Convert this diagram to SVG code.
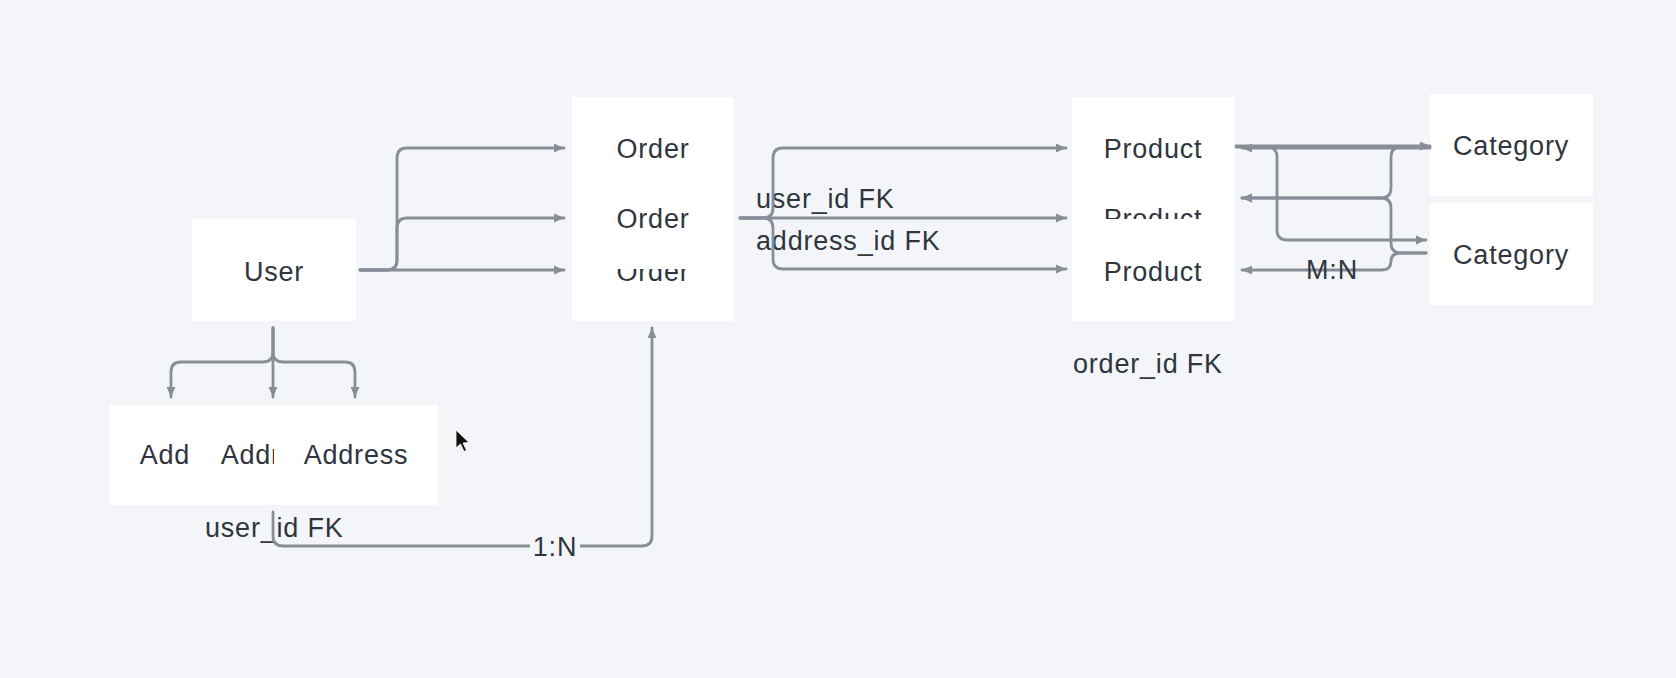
<svg xmlns="http://www.w3.org/2000/svg" width="1676" height="678" viewBox="0 0 1676 678">
<style>
.box{fill:#ffffff}
.t{font-family:"Liberation Sans",Arial,sans-serif;font-size:27px;letter-spacing:0.8px;fill:#30353e;text-anchor:middle}
.lbl{font-family:"Liberation Sans",Arial,sans-serif;font-size:27px;letter-spacing:0.8px;fill:#30353e}
.c{fill:none;stroke:#878e97;stroke-width:2.8;stroke-linecap:round;stroke-linejoin:round}
.a{marker-end:url(#arr)}
</style>
<defs>
<marker id="arr" markerUnits="userSpaceOnUse" markerWidth="12" markerHeight="12" refX="10" refY="6" orient="auto">
<path d="M0,1.5 L10,6 L0,10.5 z" fill="#878e97"/>
</marker>
</defs>
<rect x="0" y="0" width="1676" height="678" fill="#f4f5f9"/>
<rect x="942" y="512" width="509" height="102" fill="#f5f4f9"/>

<g id="user"><rect class="box" x="192" y="219" width="164" height="102"/><text class="t" x="274" y="281">User</text></g>

<g id="order3"><rect class="box" x="572" y="219" width="162" height="102"/><text class="t" x="653" y="281">Order</text></g>
<g id="order1"><rect class="box" x="572" y="97" width="162" height="102"/><text class="t" x="653" y="158">Order</text></g>
<g id="order2"><rect class="box" x="572" y="167" width="162" height="102"/><text class="t" x="653" y="228">Order</text></g>

<g id="product1"><rect class="box" x="1072" y="97" width="163" height="102"/><text class="t" x="1153" y="158">Product</text></g>
<g id="product2"><rect class="box" x="1072" y="167" width="163" height="102"/><text class="t" x="1153" y="228">Product</text></g>
<g id="product3"><rect class="box" x="1072" y="219" width="163" height="102"/><text class="t" x="1153" y="281">Product</text></g>

<g id="category1"><rect class="box" x="1430" y="94" width="163" height="102"/><text class="t" x="1511" y="155">Category</text></g>
<g id="category2"><rect class="box" x="1430" y="203" width="163" height="102"/><text class="t" x="1511" y="264">Category</text></g>

<g id="address1"><rect class="box" x="110" y="405" width="164" height="100"/><text class="t" x="192" y="464">Address</text></g>
<g id="address2"><rect class="box" x="189" y="405" width="164" height="100"/><text class="t" x="273" y="464">Address</text></g>
<g id="address3"><rect class="box" x="274" y="405" width="164" height="100"/><text class="t" x="356" y="464">Address</text></g>

<g id="labels">
<text class="lbl" x="756" y="208">user_id FK</text>
<text class="lbl" x="756" y="250">address_id FK</text>
<text class="lbl" x="205" y="537">user_id FK</text>
<text class="lbl" x="1073" y="373">order_id FK</text>
</g>

<g id="connectors">
<path class="c a" d="M360,270 H387 Q397,270 397,260 V158 Q397,148 407,148 H564"/>
<path class="c a" d="M360,270 H387 Q397,270 397,260 V228 Q397,218 407,218 H564"/>
<path class="c a" d="M360,270 H564"/>

<path class="c a" d="M740,218 H763 Q773,218 773,208 V158 Q773,148 783,148 H1066"/>
<path class="c a" d="M740,218 H1066"/>
<path class="c a" d="M740,218 H763 Q773,218 773,228 V259 Q773,269 783,269 H1066"/>

<path class="c a" d="M273,328 V352 Q273,362 263,362 H181 Q171,362 171,372 V397"/>
<path class="c a" d="M273,328 V397"/>
<path class="c a" d="M273,328 V352 Q273,362 283,362 H345 Q355,362 355,372 V397"/>

<path class="c a" d="M273,512 V536 Q273,546 283,546 H642 Q652,546 652,536 V328"/>
<rect x="530" y="532" width="50" height="30" fill="#f4f5f9"/>
<text class="t" x="555" y="556">1:N</text>

<path class="c a" d="M1236,146 H1430"/>
<path class="c a" d="M1430,148 H1242"/>
<path class="c a" d="M1236,147 H1267 Q1277,147 1277,157 V230 Q1277,240 1287,240 H1426"/>
<path class="c a" d="M1430,147 H1401 Q1391,147 1391,157 V188 Q1391,198 1381,198 H1242"/>
<path class="c a" d="M1426,253 H1401 Q1391,253 1391,243 V208 Q1391,198 1381,198 H1242"/>
<path class="c a" d="M1426,253 H1401 Q1391,253 1391,261 Q1391,270 1382,270 H1242"/>
<text class="t" x="1332" y="279">M:N</text>
</g>

<path d="M456,430 V448 L460.5,444 L464,451.5 L466.5,450.3 L463,443 L469,442.5 Z" fill="#111" stroke="#fff" stroke-width="0.8"/>
</svg>
